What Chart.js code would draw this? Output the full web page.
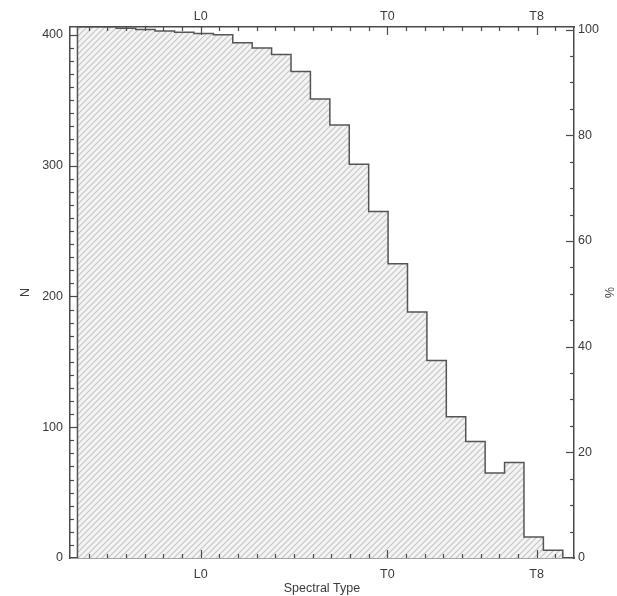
<!DOCTYPE html>
<html>
<head>
<meta charset="utf-8">
<script src="https://cdn.jsdelivr.net/npm/chart.js@4.4.1/dist/chart.umd.min.js"></script>
<style>
  html, body { margin: 0; padding: 0; background: #fff; }
</style>
</head>
<body>
<canvas id="chart" width="617" height="596"></canvas>
<script>
'use strict';

// spectral type as a number: M0 = 0, L0 = 10, T0 = 20
var X_RANGE = [3, 30];
var TYPE_LABELS = { 10: 'L0', 20: 'T0', 28: 'T8' };

// histogram bin edges (spectral type units) and the count in each bin
var BIN_EDGES = [3.4, 4.44, 5.48, 6.52, 7.56, 8.6, 9.64, 10.68, 11.72, 12.76, 13.8, 14.84, 15.88,
	16.92, 17.96, 19.0, 20.04, 21.08, 22.12, 23.16, 24.2, 25.24, 26.28, 27.32, 28.36, 29.4];
var COUNTS = [406, 406, 405, 404, 403, 402, 401, 400, 394, 390, 385, 372, 351, 331, 301, 265,
	225, 188, 151, 108, 89, 65, 73, 16, 6];

var N_MAX = 406;    // top of the N axis
var N_TOTAL = 404;  // N that corresponds to 100 %

var INK = '#4a4a4a';
var TEXT = '#3a3a3a';
var FONT = { family: 'Liberation Sans', size: 12.5 };

// outline of the histogram: up the first edge, across each bin, down the last edge
var outline = [{ x: BIN_EDGES[0], y: 0 }];
for (var i = 0; i < COUNTS.length; i++) {
	outline.push({ x: BIN_EDGES[i + 1], y: COUNTS[i] });
}
outline.push({ x: BIN_EDGES[BIN_EDGES.length - 1], y: 0 });

// diagonal hatching for the filled area
var makeHatch = function() {
	var c = document.createElement('canvas');
	c.width = 6;
	c.height = 6;
	var g = c.getContext('2d');
	g.fillStyle = '#f4f4f4';
	g.fillRect(0, 0, 6, 6);
	g.strokeStyle = '#c6c6c6';
	g.lineWidth = 1.2;
	g.beginPath();
	g.moveTo(0, 6); g.lineTo(6, 0);
	g.moveTo(-1, 1); g.lineTo(1, -1);
	g.moveTo(5, 7); g.lineTo(7, 5);
	g.stroke();
	return g.createPattern(c, 'repeat');
};

var isStep = function(v, step) {
	return Math.abs(v / step - Math.round(v / step)) < 1e-6;
};

// which ticks get the long marks
var MAJOR = {
	x: function(v) { return !!TYPE_LABELS[Math.round(v)]; },
	x2: function(v) { return !!TYPE_LABELS[Math.round(v)]; },
	y: function(v) { return isStep(v, 100); },
	y2: function(v) { return isStep(v, 20); }
};
var STEPS = { x: 1, x2: 1, y: 10, y2: 5 };

// tick marks pointing into the plot on all four sides
var insideTicks = {
	id: 'insideTicks',
	afterDraw: function(chart) {
		var ctx = chart.ctx, area = chart.chartArea;
		ctx.save();
		ctx.strokeStyle = INK;
		ctx.lineWidth = 1.2;
		Object.keys(STEPS).forEach(function(id) {
			var scale = chart.scales[id];
			if (!scale) return;
			scale.ticks.forEach(function(t) {
				var v = t.value;
				if (v <= scale.min + 1e-6 || v >= scale.max - 1e-6 || !isStep(v, STEPS[id])) return;
				var len = MAJOR[id](v) ? 8 : 4;
				var p = Math.round(scale.getPixelForValue(v)) + 0.5;
				ctx.beginPath();
				if (id === 'x') { ctx.moveTo(p, area.bottom); ctx.lineTo(p, area.bottom - len); }
				if (id === 'x2') { ctx.moveTo(p, area.top); ctx.lineTo(p, area.top + len); }
				if (id === 'y') { ctx.moveTo(area.left, p); ctx.lineTo(area.left + len, p); }
				if (id === 'y2') { ctx.moveTo(area.right, p); ctx.lineTo(area.right - len, p); }
				ctx.stroke();
			});
		});
		ctx.restore();
	}
};

var typeTicks = function(pad) {
	return {
		stepSize: 1, autoSkip: false, includeBounds: false, maxRotation: 0, padding: pad,
		color: TEXT, font: FONT,
		callback: function(v) { return TYPE_LABELS[Math.round(v)] || ''; }
	};
};

var border = { display: true, color: INK, width: 1.5 };

var ctx = document.getElementById('chart').getContext('2d');
var chart = new Chart(ctx, {
	type: 'line',
	data: {
		datasets: [{
			data: outline,
			stepped: 'after',
			fill: 'origin',
			backgroundColor: makeHatch(),
			borderColor: '#555',
			borderWidth: 1.5,
			pointRadius: 0,
			xAxisID: 'x',
			yAxisID: 'y'
		}]
	},
	options: {
		responsive: false,
		animation: false,
		layout: { padding: 0 },
		plugins: { legend: { display: false }, tooltip: { enabled: false } },
		scales: {
			x: {
				type: 'linear', position: 'bottom', min: X_RANGE[0], max: X_RANGE[1],
				afterFit: function(s) { s.height = 38; },
				grid: { display: false, drawTicks: false },
				border: border,
				ticks: typeTicks(9),
				title: { display: true, text: 'Spectral Type', color: TEXT, font: FONT, padding: { top: 0, bottom: 0 } }
			},
			x2: {
				type: 'linear', position: 'top', min: X_RANGE[0], max: X_RANGE[1],
				afterFit: function(s) { s.height = 27; },
				grid: { display: false, drawTicks: false },
				border: border,
				ticks: typeTicks(3)
			},
			y: {
				type: 'linear', position: 'left', min: 0, max: N_MAX,
				afterFit: function(s) { s.width = 70; },
				grid: { display: false, drawTicks: false },
				border: border,
				ticks: {
					stepSize: 10, autoSkip: false, includeBounds: false, padding: 7, color: TEXT, font: FONT,
					callback: function(v) { return isStep(v, 100) ? v : ''; }
				},
				title: { display: true, text: 'N', color: TEXT, font: FONT, padding: { top: 18, bottom: 0 } }
			},
			y2: {
				type: 'linear', position: 'right', min: 0, max: N_MAX / N_TOTAL * 100,
				afterFit: function(s) { s.width = 43; },
				grid: { display: false, drawTicks: false },
				border: border,
				ticks: {
					stepSize: 5, autoSkip: false, includeBounds: false, padding: 4, color: TEXT, font: FONT,
					callback: function(v) { return isStep(v, 20) ? Math.round(v) : ''; }
				},
				title: { display: true, text: '%', color: TEXT, font: FONT, padding: { top: 1, bottom: 0 } }
			}
		}
	},
	plugins: [insideTicks]
});
</script>
</body>
</html>
